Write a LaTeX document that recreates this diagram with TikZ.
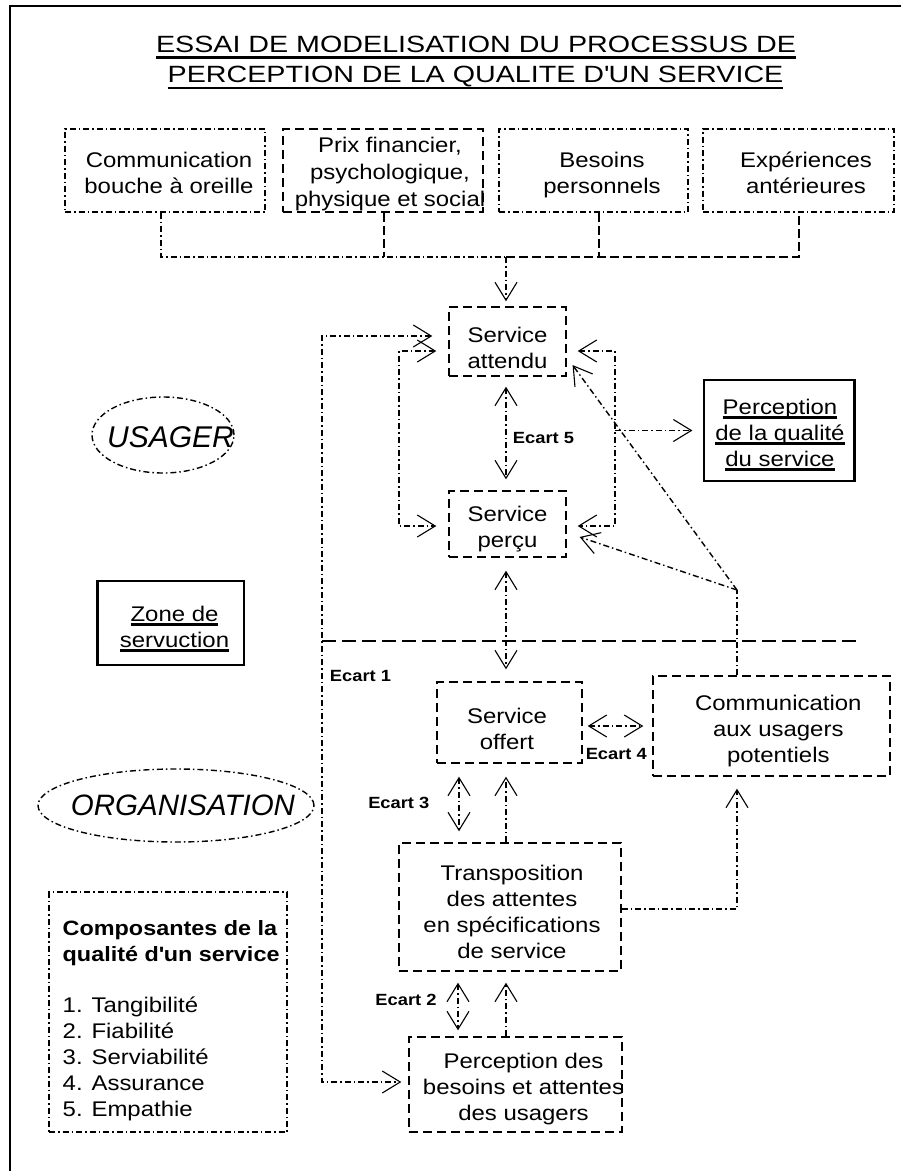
\documentclass[tikz,border=0pt]{standalone}
\usepackage{fontspec}
\setmainfont{Liberation Sans}[FakeStretch=1.13]
\newfontfamily\titlefont{Liberation Sans}[FakeStretch=1.22]
\newfontfamily\roundfont{Liberation Sans}
\usetikzlibrary{arrows.meta,calc,shapes.geometric}

% underline: #1 depth of the rule below the baseline, #2 thickness, #3 text
\newsavebox\ulbox
\newcommand\ruleunder[3]{\sbox\ulbox{#3}\rlap{\rule[-#1]{\wd\ulbox}{#2}}\usebox\ulbox}
\newcommand\titleul[1]{\ruleunder{6.5pt}{2.4pt}{#1}}
\newcommand\boxul[1]{\ruleunder{4.2pt}{2.6pt}{#1}}

\begin{document}
\begin{tikzpicture}[x=1pt,y=-1pt,line width=1.4pt,
  >={Straight Barb[length=18pt,width=22pt,line width=1.1pt]},
  dashbox/.style={draw,rectangle,inner sep=0pt,dash pattern=on 9pt off 5pt},
  dotbox/.style={draw,rectangle,inner sep=0pt,dash pattern=on 6pt off 3pt on 1.5pt off 3pt},
  solidbox/.style={draw,rectangle,inner sep=0pt,line width=1.2pt},
  dd/.style={dash pattern=on 6pt off 3pt on 1.5pt off 3pt},
  dashline/.style={dash pattern=on 9pt off 4pt},
  longdash/.style={dash pattern=on 14pt off 6pt},
  txt/.style={align=center,inner sep=0pt,font=\fontsize{21.2}{26}\selectfont},
  ecart/.style={inner sep=0pt,font=\fontsize{16.2}{19}\selectfont\bfseries},
  bigital/.style={inner sep=0pt,font=\fontsize{30}{36}\roundfont\itshape},
  titletxt/.style={anchor=base,inner sep=0pt,font=\fontsize{23.5}{30}\titlefont},
]
\useasboundingbox (0,0) rectangle (901,1171);

% page frame
\draw[line width=2pt] (10,1171) -- (10,5.7) -- (901,5.7);

% title
\node[titletxt] (title1) at (476,52) {\titleul{ESSAI DE MODELISATION DU PROCESSUS DE}};
\node[titletxt] (title2) at (475.5,82.5) {\titleul{PERCEPTION DE LA QUALITE D\textquotesingle UN SERVICE}};

% influencing factors
\node[dotbox,minimum width=200pt,minimum height=83pt] (top1) at (165,170.5) {};
\node[dashbox,minimum width=200pt,minimum height=83pt] (top2) at (383,170.5) {};
\node[dotbox,minimum width=189pt,minimum height=83pt] (top3) at (593.5,170.5) {};
\node[dotbox,minimum width=191pt,minimum height=83pt] (top4) at (798.5,170.5) {};
\node[txt] (top1-t) at (169,173.2) {Communication\\bouche à oreille};
\node[txt,font=\fontsize{21.2}{27}\selectfont] (top2-t) at (390,174.5) {Prix financier,\\psychologique,\\physique et social};
\node[txt] (top3-t) at (602,175.5) {Besoins\\personnels};
\node[txt] (top4-t) at (806,173.1) {Expériences\\antérieures};

% main boxes
\node[dashbox,minimum width=117pt,minimum height=69pt] (attendu) at (507.5,341.5) {};
\node[dashbox,minimum width=117pt,minimum height=66pt] (percu) at (507.5,524) {};
\node[solidbox,minimum width=150pt,minimum height=101pt] (qual) at (779,430.5) {};
\node[solidbox,minimum width=146pt,minimum height=84pt] (zone) at (171,623) {};
\node[dashbox,minimum width=145pt,minimum height=81pt] (offert) at (509.5,722.5) {};
\node[dashbox,minimum width=237pt,minimum height=100pt] (comm) at (771.5,726) {};
\node[dashbox,minimum width=222pt,minimum height=128pt] (transp) at (510,907) {};
\node[dashbox,minimum width=213pt,minimum height=95pt] (besoins) at (515.5,1084.5) {};
\node[dotbox,minimum width=238pt,minimum height=240pt] (compo) at (168,1012) {};
\draw[line width=3pt] (qual.north east) -- (qual.south east);
\draw[line width=3pt] (zone.north west) -- (zone.south west);

\node[txt] (attendu-t) at (507.5,347.5) {Service\\attendu};
\node[txt] (percu-t) at (507.5,528.7) {Service\\perçu};
\node[txt] (qual-t) at (780,435.3) {\boxul{Perception}\\\boxul{de la qualité}\\\boxul{du service}};
\node[txt] (zone-t) at (174.5,629.2) {\boxul{Zone de}\\\boxul{servuction}};
\node[txt] (offert-t) at (507,728.8) {Service\\offert};
\node[txt] (comm-t) at (778.3,730.7) {Communication\\aux usagers\\potentiels};
\node[txt] (transp-t) at (512,912.2) {Transposition\\des attentes\\en spécifications\\de service};
\node[txt] (besoins-t) at (523.5,1089.5) {Perception des\\besoins et attentes\\des usagers};
\node[txt,align=left,anchor=west] (compo-t) at (62,1020.4)
  {{\fontsize{20.7}{26}\selectfont\bfseries Composantes de la}\\
   {\fontsize{20.7}{26}\selectfont\bfseries qualité d\textquotesingle un service}\\[25pt]
   \fontsize{21.2}{26.5}\selectfont 1. Tangibilité\\2. Fiabilité\\3. Serviabilité\\4. Assurance\\5. Empathie};

% actor ellipses
\node[ellipse,draw,dd,inner sep=0pt,minimum width=142pt,minimum height=76pt] (usager) at (163,435) {};
\node[bigital] (usager-t) at (170.5,437.5) {USAGER};
\node[ellipse,draw,dd,inner sep=0pt,minimum width=276pt,minimum height=73pt] (orga) at (176,805.5) {};
\node[bigital,font=\fontsize{29.5}{36}\roundfont\itshape] (orga-t) at (183,805.5) {ORGANISATION};

% helper points
\coordinate (gather) at (506,257);
\coordinate (drop1) at (161,257);
\coordinate (drop2) at (384,257);
\coordinate (drop3) at (599,257);
\coordinate (drop4) at (799,257);
\coordinate (lloop) at (399,438);
\coordinate (rloop) at (615,430.5);
\coordinate (zonecorner) at (322,641);
\coordinate (zoneend) at (862,641);
\coordinate (jn) at (737,590);
\coordinate (gap3) at (459,800);
\coordinate (gap2) at (458,1000);

% factors feeding the expected service
\draw[dd] (top1.south -| drop1) -- (drop1) -- (gather);
\draw[dashline] (gather) -- (drop4) -- (top4.south -| drop4);
\draw[dashline] (top2.south -| drop2) -- (drop2);
\draw[dashline] (top3.south -| drop3) -- (drop3);
\draw[dd,->,shorten >=5pt] (gather) -- (attendu.north -| gather);

% loops around expected / perceived service
\draw[dd,<->,shorten <=16pt,shorten >=7pt] ($(attendu.west)+(0,-5.5)$) -| (zonecorner) |- ($(besoins.west)+(0,-2.5)$);
\draw[dd,<->,shorten <=12pt,shorten >=12pt] ($(attendu.west)+(0,9.5)$) -| (lloop) |- ($(percu.west)+(0,2)$);
\draw[dd,<->,shorten <=11pt,shorten >=11pt] ($(attendu.east)+(0,9.5)$) -| (rloop) |- ($(percu.east)+(0,2)$);
\draw[dd,->,shorten >=11pt] (rloop) -- (qual.west);

% boundary of the servuction zone
\draw[longdash] (zonecorner) -- (zoneend);

% gaps
\draw[dd,<->,shorten <=10pt,shorten >=11pt] (attendu.south -| gather) -- (percu.north -| gather);
\draw[dd,<->,shorten <=13pt,shorten >=12pt] (percu.south -| gather) -- (offert.north -| gather);
\draw[dd,<->,shorten <=5pt,shorten >=9pt] (offert.east |- comm.west) -- (comm.west);
\draw[dd] (comm.north -| jn) -- (jn);
\draw[dd,->,shorten >=10pt] (jn) -- ($(attendu.east)+(0,15.5)$);
\draw[dd,->,shorten >=13.7pt] (jn) -- ($(percu.east)+(0,8.6)$);
\draw[dd,<->,shorten <=13pt,shorten >=11pt] (offert.south -| gap3) -- (transp.north -| gap3);
\draw[dd,->,shorten >=13pt] (transp.north -| gather) -- (offert.south -| gather);
\draw[dd,->,shorten >=12pt] ($(transp.east)+(0,2)$) -| (comm.south -| jn);
\draw[dd,<->,shorten <=11pt,shorten >=6pt] (transp.south -| gap2) -- (besoins.north -| gap2);
\draw[dd,->,shorten >=11pt] (besoins.north -| gather) -- (transp.south -| gather);

% gap labels
\node[ecart] (e5) at (543.5,438) {Ecart 5};
\node[ecart] (e1) at (360.5,676) {Ecart 1};
\node[ecart] (e4) at (616.3,753.7) {Ecart 4};
\node[ecart] (e3) at (398.8,803.3) {Ecart 3};
\node[ecart] (e2) at (406,999.7) {Ecart 2};
\end{tikzpicture}
\end{document}
